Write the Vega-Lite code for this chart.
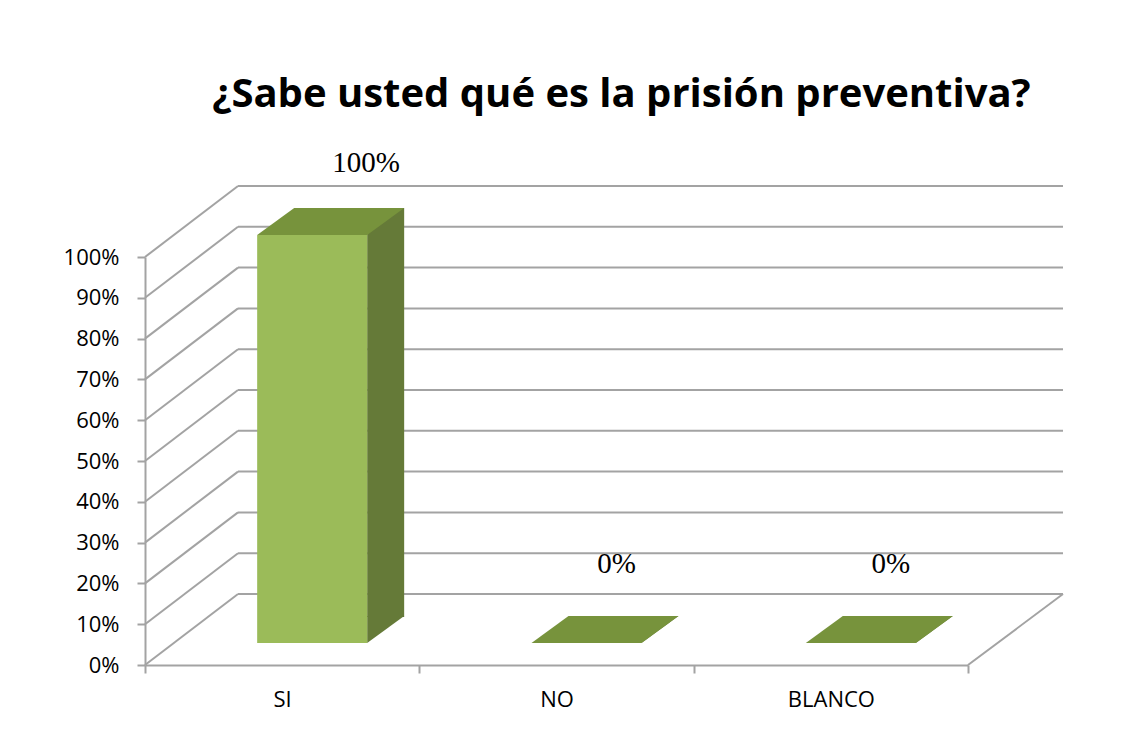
{
  "$schema": "https://vega.github.io/schema/vega-lite/v6.json",
  "width": 823,
  "height": 408,
  "autosize": {"type": "none"},
  "padding": {"left": 145, "top": 257, "right": 160, "bottom": 66},
  "background": "white",
  "config": {"view": {"stroke": null}},
  "title": {
    "text": "¿Sabe usted qué es la prisión preventiva?",
    "font": "Open Sans",
    "fontSize": 40,
    "fontWeight": "bold",
    "color": "#000000",
    "anchor": "middle",
    "frame": "group",
    "dx": 65,
    "offset": 2,
    "baseline": "alphabetic"
  },
  "datasets": {
    "bars": [
      {"cat": "SI", "v": 1},
      {"cat": "NO", "v": 0},
      {"cat": "BLANCO", "v": 0}
    ],
    "ticks": [
      {"v": 0}, {"v": 0.1}, {"v": 0.2}, {"v": 0.3}, {"v": 0.4}, {"v": 0.5},
      {"v": 0.6}, {"v": 0.7}, {"v": 0.8}, {"v": 0.9}, {"v": 1}
    ]
  },
  "layer": [
    {
      "data": {"name": "ticks"},
      "mark": {"type": "rule", "color": "#a3a3a3", "strokeWidth": 2, "xOffset": 93, "x2Offset": 95, "yOffset": -71},
      "encoding": {
        "x": {"datum": 0, "type": "quantitative", "scale": {"domain": [0, 3], "nice": false, "zero": false}, "axis": null},
        "x2": {"datum": 3},
        "y": {
          "field": "v", "type": "quantitative",
          "scale": {"domain": [0, 1], "nice": false},
          "axis": {
            "values": [0, 0.1, 0.2, 0.3, 0.4, 0.5, 0.6, 0.7, 0.8, 0.9, 1],
            "format": ".0%", "title": null, "grid": false,
            "tickSize": 8, "labelPadding": 18,
            "labelFont": "Open Sans", "labelFontSize": 22, "labelColor": "#000000",
            "domainColor": "#a3a3a3", "tickColor": "#a3a3a3", "domainWidth": 2, "tickWidth": 2
          }
        }
      }
    },
    {
      "data": {"name": "ticks"},
      "mark": {"type": "rule", "color": "#a3a3a3", "strokeWidth": 2, "x2Offset": 93, "y2Offset": -71},
      "encoding": {
        "x": {"datum": 0, "type": "quantitative", "scale": {"domain": [0, 3], "nice": false, "zero": false}, "axis": null},
        "x2": {"datum": 0},
        "y": {"field": "v", "type": "quantitative"},
        "y2": {"field": "v"}
      }
    },
    {
      "data": {"name": "ticks"},
      "transform": [{"filter": "datum.v == 0"}],
      "mark": {"type": "rule", "color": "#a3a3a3", "strokeWidth": 2, "x2Offset": 95, "y2Offset": -71},
      "encoding": {
        "x": {"datum": 3, "type": "quantitative", "scale": {"domain": [0, 3], "nice": false, "zero": false}, "axis": null},
        "x2": {"datum": 3},
        "y": {"field": "v", "type": "quantitative"},
        "y2": {"field": "v"}
      }
    },
    {
      "data": {"name": "bars"},
      "transform": [{"filter": "datum.v > 0"}],
      "mark": {"type": "bar", "color": "#657a38", "width": 37, "xOffset": 103.5, "yOffset": -49, "y2Offset": -48},
      "encoding": {
        "x": {"field": "cat", "type": "nominal", "sort": ["SI", "NO", "BLANCO"], "scale": {"domain": ["SI", "NO", "BLANCO"], "paddingInner": 0, "paddingOuter": 0}, "axis": null},
        "y": {"field": "v", "type": "quantitative"},
        "y2": {"datum": 0}
      }
    },
    {
      "data": {"name": "bars"},
      "mark": {"type": "point", "shape": "M0,0L0,-0.27L0.37,-0.27Z", "size": 40000, "filled": true, "color": "#657a38", "opacity": 1, "strokeWidth": 0, "xOffset": 85, "yOffset": -22},
      "encoding": {
        "x": {"field": "cat", "type": "nominal", "sort": ["SI", "NO", "BLANCO"], "scale": {"domain": ["SI", "NO", "BLANCO"], "paddingInner": 0, "paddingOuter": 0}, "axis": null},
        "y": {"datum": 0, "type": "quantitative"}
      }
    },
    {
      "data": {"name": "bars"},
      "mark": {"type": "point", "shape": "M-0.55,0L0.55,0L0.92,-0.27L-0.18,-0.27Z", "size": 40000, "filled": true, "color": "#77933c", "opacity": 1, "strokeWidth": 0, "xOffset": 30, "yOffset": -22},
      "encoding": {
        "x": {"field": "cat", "type": "nominal", "sort": ["SI", "NO", "BLANCO"], "scale": {"domain": ["SI", "NO", "BLANCO"], "paddingInner": 0, "paddingOuter": 0}, "axis": null},
        "y": {"field": "v", "type": "quantitative"}
      }
    },
    {
      "data": {"name": "bars"},
      "mark": {"type": "bar", "color": "#9bbb59", "width": 110, "xOffset": 30, "yOffset": -22, "y2Offset": -22},
      "encoding": {
        "x": {
          "field": "cat", "type": "nominal", "sort": ["SI", "NO", "BLANCO"],
          "scale": {"domain": ["SI", "NO", "BLANCO"], "paddingInner": 0, "paddingOuter": 0},
          "axis": {
            "title": null, "labelAngle": 0, "tickBand": "extent", "tickSize": 8, "labelPadding": 16,
            "labelFont": "Open Sans", "labelFontSize": 22, "labelColor": "#000000",
            "domainColor": "#a3a3a3", "tickColor": "#a3a3a3", "domainWidth": 2, "tickWidth": 2
          }
        },
        "y": {"field": "v", "type": "quantitative"},
        "y2": {"datum": 0}
      }
    },
    {
      "data": {"name": "bars"},
      "transform": [{"filter": "datum.v > 0"}],
      "mark": {"type": "text", "font": "Liberation Serif", "fontSize": 29, "color": "#000000", "align": "center", "baseline": "alphabetic", "dx": 84, "dy": -85},
      "encoding": {
        "x": {"field": "cat", "type": "nominal", "sort": ["SI", "NO", "BLANCO"], "scale": {"domain": ["SI", "NO", "BLANCO"], "paddingInner": 0, "paddingOuter": 0}, "axis": null},
        "y": {"field": "v", "type": "quantitative"},
        "text": {"field": "v", "type": "quantitative", "format": ".0%"}
      }
    },
    {
      "data": {"name": "bars"},
      "transform": [{"filter": "datum.v == 0"}],
      "mark": {"type": "text", "font": "Liberation Serif", "fontSize": 29, "color": "#000000", "align": "center", "baseline": "alphabetic", "dx": 60, "dy": -92},
      "encoding": {
        "x": {"field": "cat", "type": "nominal", "sort": ["SI", "NO", "BLANCO"], "scale": {"domain": ["SI", "NO", "BLANCO"], "paddingInner": 0, "paddingOuter": 0}, "axis": null},
        "y": {"field": "v", "type": "quantitative"},
        "text": {"field": "v", "type": "quantitative", "format": ".0%"}
      }
    }
  ],
  "resolve": {"scale": {"x": "independent"}}
}
